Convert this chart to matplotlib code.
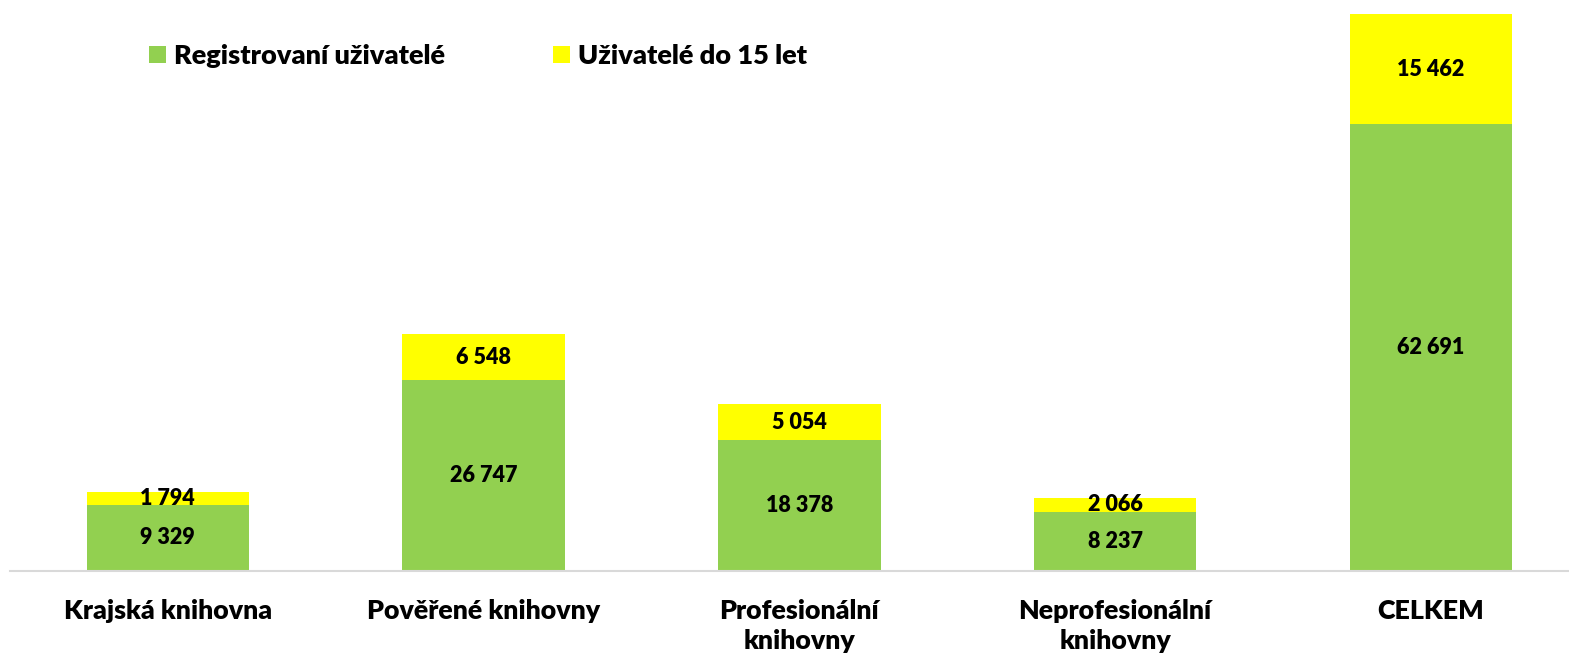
import matplotlib
matplotlib.use("Agg")
import matplotlib.pyplot as plt

categories = ["Krajská knihovna", "Pověřené knihovny", "Profesionální\nknihovny",
              "Neprofesionální\nknihovny", "CELKEM"]
registrovani = [9329, 26747, 18378, 8237, 62691]
do15 = [1794, 6548, 5054, 2066, 15462]
series_names = ["Registrovaní uživatelé", "Uživatelé do 15 let"]

def fmt(v):
    return f"{v:,}".replace(",", " ")

plt.rcParams['font.family'] = ['Lato', 'DejaVu Sans']
W, H = 1569, 659
fig = plt.figure(figsize=(W/100, H/100), dpi=100)
ax_bottom = 571
ax_top = 10
ax = fig.add_axes([10/W, (H-ax_bottom)/H, 1 - 10/W, (ax_bottom-ax_top)/H])

green = "#92D050"
yellow = "#FFFF00"
WEIGHT = "heavy"
x = list(range(len(categories)))
b1 = ax.bar(x, registrovani, width=0.515, color=green, label=series_names[0])
b2 = ax.bar(x, do15, width=0.515, bottom=registrovani, color=yellow, label=series_names[1])

top_val = (registrovani[-1] + do15[-1]) * (ax_bottom - ax_top) / (ax_bottom - 14)
ax.set_ylim(0, top_val)
ax.set_xlim(-0.5, -0.5 + (W - 10) / 315.75)

for i in x:
    ax.text(i, registrovani[i] / 2, fmt(registrovani[i]), ha="center", va="center",
            fontsize=15.5, fontweight=WEIGHT, color="black")
    ax.text(i, registrovani[i] + do15[i] / 2, fmt(do15[i]), ha="center", va="center",
            fontsize=15.5, fontweight=WEIGHT, color="black")

for s in ["top", "right", "left"]:
    ax.spines[s].set_visible(False)
ax.spines["bottom"].set_color("#D9D9D9")
ax.spines["bottom"].set_linewidth(1.5)
ax.set_yticks([])
ax.set_xticks(x)
ax.set_xticklabels(categories, fontsize=19.3, fontweight=WEIGHT, linespacing=1.32)
ax.tick_params(axis="x", length=0, pad=20)

leg = fig.legend(handles=[b1, b2], labels=series_names, loc="upper left",
                 bbox_to_anchor=(138/W, 1 - 33/H), ncol=2, frameon=False,
                 prop={"size": 19.5, "weight": WEIGHT}, handlelength=0.62, handleheight=0.62,
                 handletextpad=0.3, columnspacing=4.0, borderaxespad=0)

fig.savefig("out.png", dpi=100)
